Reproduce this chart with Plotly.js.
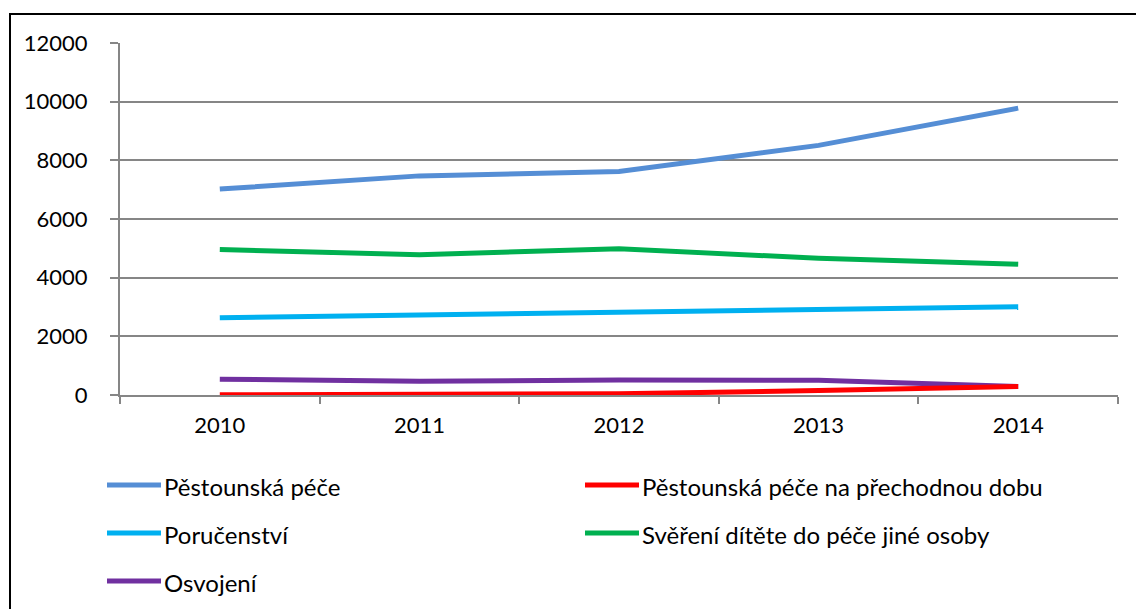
<!DOCTYPE html>
<html>
<head>
<meta charset="utf-8">
<script src="https://cdn.plot.ly/plotly-3.0.1.min.js"></script>
<style>
  html, body { margin: 0; padding: 0; background: #fff; overflow: hidden; }
  #frame { position: absolute; left: 9px; top: 13px; width: 1200px; height: 700px; border: 2px solid #000; box-sizing: border-box; }
  #chart { position: absolute; left: 0; top: 0; width: 1136px; height: 609px; }
</style>
</head>
<body>
<div id="frame"></div>
<div id="chart"></div>
<script>
const years = ['2010', '2011', '2012', '2013', '2014'];
const seriesNames = [
  'Pěstounská péče',
  'Pěstounská péče na přechodnou dobu',
  'Poručenství',
  'Svěření dítěte do péče jiné osoby',
  'Osvojení'
];
const pestounska = [7020, 7470, 7620, 8510, 9780];
const prechodna = [10, 20, 40, 150, 290];
const porucenstvi = [2630, 2730, 2850, 2930, 3010];
const svereni = [4960, 4780, 4990, 4660, 4460];
const osvojeni = [540, 470, 510, 500, 290];
const yTicks = [0, 2000, 4000, 6000, 8000, 10000, 12000];

const seriesValues = [pestounska, prechodna, porucenstvi, svereni, osvojeni];
const colors = ['#558ED5', '#FF0000', '#00B0F0', '#00B050', '#7030A0'];
const drawOrder = [0, 2, 3, 4, 1];

const FONT = 'Lato, "Open Sans", sans-serif';
const TICK_SIZE = 22;
const LEGEND_SIZE = 24;

const traces = drawOrder.map(i => ({
  type: 'scatter',
  mode: 'lines',
  x: years,
  y: seriesValues[i],
  name: seriesNames[i],
  line: { color: colors[i], width: 5 },
  showlegend: false,
  hoverinfo: 'x+y+name'
}));

// custom legend (two columns) in paper coordinates
const W = 1136, H = 609;
const mL = 120, mR = 18, mT = 43, mB = 214;
const pw = W - mL - mR, ph = H - mT - mB;
const px = x => (x - mL) / pw;
const py = y => (H - mB - y) / ph;
const legendPos = [
  { x: 107, y: 485 }, { x: 585, y: 485 },
  { x: 107, y: 533 }, { x: 585, y: 533 },
  { x: 107, y: 581 }
];
const shapes = [];
const annotations = [];
seriesNames.forEach((n, i) => {
  const p = legendPos[i];
  shapes.push({
    type: 'line', xref: 'paper', yref: 'paper',
    x0: px(p.x), x1: px(p.x + 54), y0: py(p.y), y1: py(p.y),
    line: { color: colors[i], width: 5 }
  });
  annotations.push({
    xref: 'paper', yref: 'paper', x: px(p.x + 55), y: py(p.y + 1),
    xanchor: 'left', yanchor: 'middle', showarrow: false,
    text: n, font: { family: FONT, size: LEGEND_SIZE, color: '#000' }
  });
});

const layout = {
  width: W, height: H,
  margin: { l: mL, r: mR, t: mT, b: mB, pad: 0 },
  paper_bgcolor: 'rgba(0,0,0,0)',
  plot_bgcolor: 'rgba(0,0,0,0)',
  font: { family: FONT, size: TICK_SIZE, color: '#000' },
  xaxis: {
    type: 'category',
    range: [-0.5, 4.5],
    showgrid: false,
    showline: true, linecolor: '#868686', linewidth: 2,
    ticks: 'outside', tickson: 'boundaries', ticklen: 7, tickwidth: 2, tickcolor: '#868686',
    tickfont: { family: FONT, size: TICK_SIZE, color: '#000' },
    ticklabelstandoff: 10,
    zeroline: false, fixedrange: true
  },
  yaxis: {
    range: [0, 12000],
    tickvals: yTicks,
    ticktext: yTicks.map(String),
    showgrid: true, gridcolor: '#868686', gridwidth: 2,
    showline: true, linecolor: '#868686', linewidth: 2,
    ticks: 'outside', ticklen: 8, tickwidth: 2, tickcolor: '#868686',
    tickfont: { family: FONT, size: TICK_SIZE, color: '#000' },
    ticklabelstandoff: 18,
    zeroline: false, fixedrange: true
  },
  shapes: shapes,
  annotations: annotations
};

Plotly.newPlot('chart', traces, layout, { displayModeBar: false, staticPlot: true });
</script>
</body>
</html>
